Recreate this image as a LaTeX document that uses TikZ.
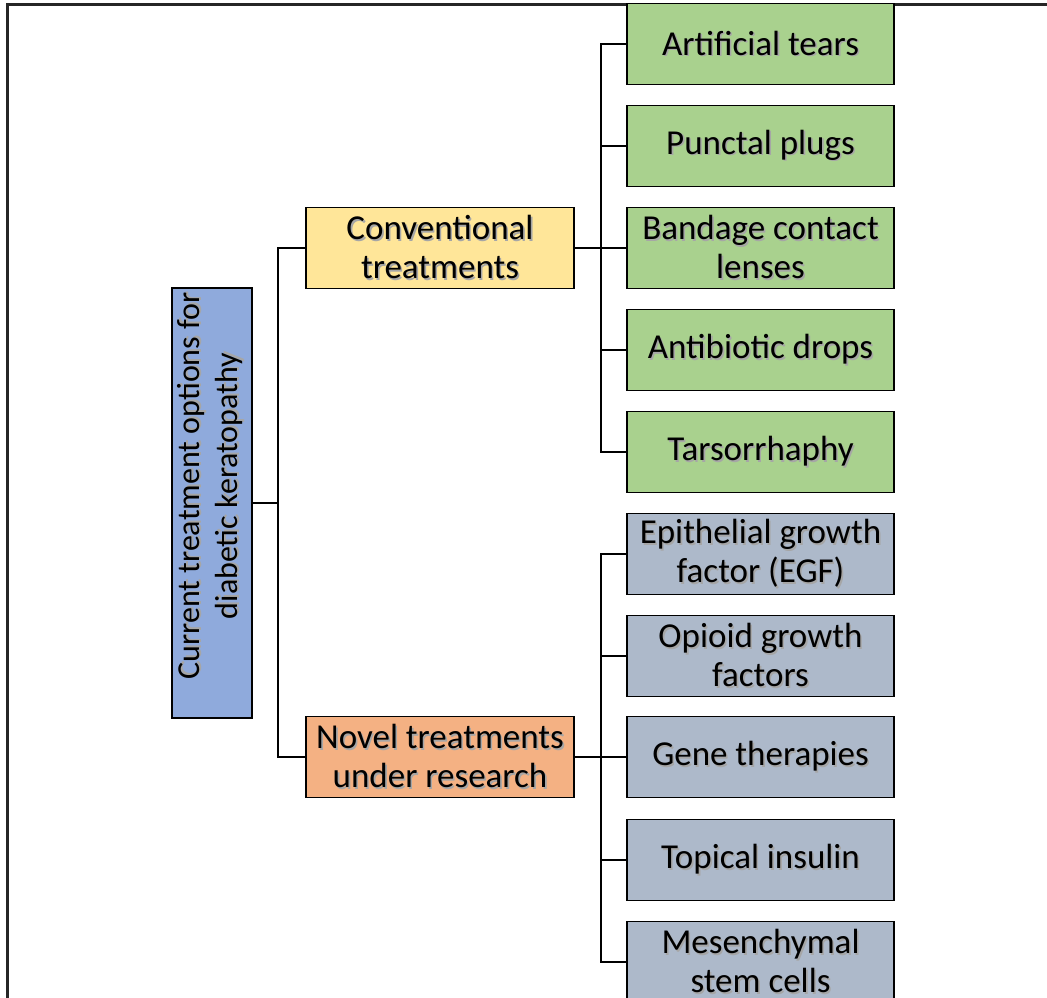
\documentclass[tikz,border=0pt]{standalone}
\usepackage{fontspec}
\setmainfont{Carlito}
\definecolor{leafgreen}{HTML}{A9D18E}
\definecolor{leafgrey}{HTML}{ADB9CA}
\definecolor{rootblue}{HTML}{8FAADC}
\definecolor{convyellow}{HTML}{FFE699}
\definecolor{novelorange}{HTML}{F4B183}
\newcommand{\sh}[1]{\makebox[0pt][l]{\hspace{1.6pt}\raisebox{-1.6pt}{\color{black!35}#1}}#1}
\begin{document}
\begin{tikzpicture}[x=1pt,y=-1pt,
  boxbase/.style={draw=black, line width=1.8pt, align=center, inner sep=0pt,
    font=\fontsize{35}{39}\selectfont},
  leaf/.style={boxbase, minimum width=267pt, minimum height=81pt},
  green/.style={leaf, fill=leafgreen},
  grey/.style={leaf, fill=leafgrey},
  mid/.style={boxbase, minimum width=268pt, minimum height=81pt},
  conn/.style={draw=black, line width=1.4pt}]
\useasboundingbox (0,0) rectangle (1047,997);
\draw[line width=3pt, black!85] (7,1010) -- (7,4) -- (1060,4);

\node[boxbase, fill=rootblue, minimum width=80pt, minimum height=430pt] (root) at (212,503) {};
\node[font=\fontsize{32}{38}\selectfont, align=center, rotate=90, inner sep=0pt] (roottext) at (211,486) {\sh{Current treatment options for}\\\sh{diabetic keratopathy}};

\node[mid, fill=convyellow] (conv) at (440,248) {\sh{Conventional}\\\sh{treatments}};
\node[mid, fill=novelorange] (novel) at (440,757) {\sh{Novel treatments}\\\sh{under research}};

\node[green] (l1) at (760.5,44) {\sh{Artificial tears}};
\node[green] (l2) at (760.5,146) {\sh{Punctal plugs}};
\node[green] (l3) at (760.5,248) {\sh{Bandage contact}\\\sh{lenses}};
\node[green] (l4) at (760.5,350) {\sh{Antibiotic drops}};
\node[green] (l5) at (760.5,452) {\sh{Tarsorrhaphy}};
\node[grey] (l6) at (760.5,554) {\sh{Epithelial growth}\\\sh{factor (EGF)}};
\node[grey] (l7) at (760.5,656) {\sh{Opioid growth}\\\sh{factors}};
\node[grey] (l8) at (760.5,757) {\sh{Gene therapies}};
\node[grey] (l9) at (760.5,860) {\sh{Topical insulin}};
\node[grey] (l10) at (760.5,962) {\sh{Mesenchymal}\\\sh{stem cells}};

\coordinate (rj) at (278,503);
\coordinate (cj) at (601,248);
\coordinate (nj) at (601,757);
\draw[conn] (root.east) -- (rj);
\draw[conn] (conv.west) -| (rj) |- (novel.west);
\draw[conn] (conv.east) -- (cj);
\draw[conn] (novel.east) -- (nj);
\foreach \n in {l1,l2,l3,l4,l5} \draw[conn] (cj) |- (\n.west);
\foreach \n in {l6,l7,l8,l9,l10} \draw[conn] (nj) |- (\n.west);
\end{tikzpicture}
\end{document}
